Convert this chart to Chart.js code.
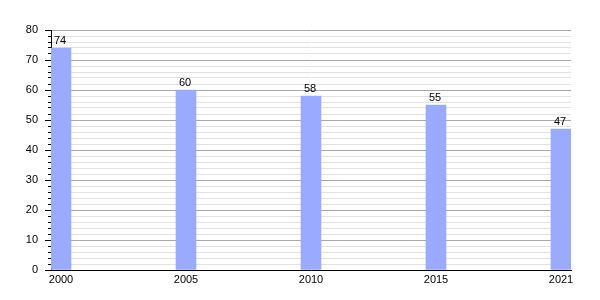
<!DOCTYPE html>
<html>
<head>
<meta charset="utf-8">
<script src="https://cdn.jsdelivr.net/npm/chart.js@4.4.1/dist/chart.umd.min.js"></script>
<style>
  html, body { margin: 0; padding: 0; background: #fff; }
  #wrap { width: 600px; height: 300px; }
</style>
</head>
<body>
<div id="wrap"><canvas id="chart"></canvas></div>
<script>
const years = ['2000', '2005', '2010', '2015', '2021'];
const values = [74, 60, 58, 55, 47];
const yTicks = [0, 10, 20, 30, 40, 50, 60, 70, 80];

const font = { family: 'Liberation Sans, Arial, sans-serif', size: 11 };

// value labels on top of the bars
const barLabels = {
  id: 'barLabels',
  afterDatasetsDraw(chart) {
    const ctx = chart.ctx;
    const meta = chart.getDatasetMeta(0);
    ctx.save();
    ctx.font = '11px Liberation Sans, Arial, sans-serif';
    ctx.fillStyle = '#000';
    ctx.textAlign = 'center';
    ctx.textBaseline = 'bottom';
    meta.data.forEach((bar, i) => {
      ctx.fillText(values[i], bar.x - 1, bar.y - 2);
    });
    ctx.restore();
  }
};

new Chart(document.getElementById('chart'), {
  type: 'bar',
  data: {
    datasets: [{
      data: values.map((v, i) => ({ x: i, y: v })),
      backgroundColor: '#9aabff',
      borderWidth: 0,
      barThickness: 20
    }]
  },
  options: {
    responsive: true,
    maintainAspectRatio: false,
    animation: false,
    layout: { padding: { top: 30, right: 29, left: 0, bottom: 0 } },
    plugins: {
      legend: { display: false },
      tooltip: { enabled: false }
    },
    scales: {
      x: {
        type: 'linear',
        offset: false,
        min: -0.08,
        max: 4.08,
        afterBuildTicks: s => { s.ticks = years.map((_, i) => ({ value: i })); },
        afterFit: s => { s.height = 30; },
        grid: { display: false, drawTicks: false, offset: false },
        border: { display: true, color: '#000', width: 1 },
        ticks: {
          color: '#000',
          font: font,
          padding: 3,
          maxRotation: 0,
          callback: v => years[v]
        }
      },
      y: {
        min: 0,
        max: 80,
        afterFit: s => { s.width = 51; },
        ticks: {
          stepSize: 2,
          autoSkip: false,
          color: '#000',
          font: font,
          padding: 7,
          callback: v => (yTicks.includes(v) ? v : '')
        },
        grid: {
          color: c => (c.tick && c.tick.value % 10 === 0 ? '#a8a8a8' : '#e2e2e2'),
          tickColor: '#000',
          tickLength: 6,
          tickBorderDash: c => (c.tick && c.tick.value % 10 === 0 ? [] : [0, 3, 3, 20])
        },
        border: { display: true, color: '#000', width: 1 }
      }
    }
  },
  plugins: [barLabels]
});
</script>
</body>
</html>
